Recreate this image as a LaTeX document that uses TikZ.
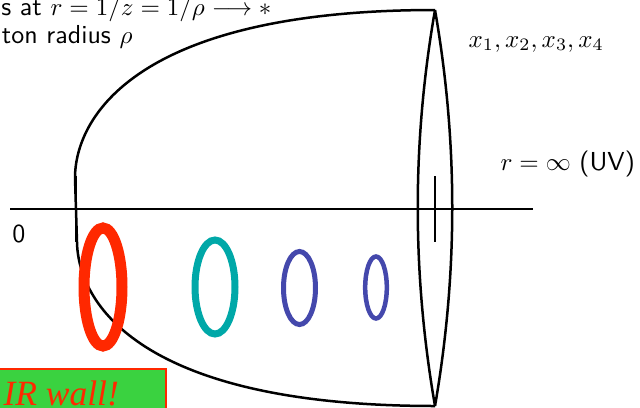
\documentclass[tikz,border=0pt]{standalone}
\usepackage{fontspec}
\newfontfamily\wallfont{Liberation Serif}
\definecolor{wallred}{RGB}{255,40,0}
\definecolor{teal2}{RGB}{0,168,168}
\definecolor{blue2}{RGB}{68,72,172}
\definecolor{wallgreen}{RGB}{58,210,64}
\begin{document}
\begin{tikzpicture}[x=0.4pt,y=-0.4pt,
  curve/.style={line width=1pt,black},
  tick/.style={line width=0.9pt,black},
  lbl/.style={inner sep=0pt,font=\fontsize{10.4}{12.5}\selectfont\sffamily},
  loop/.style={draw=#1},
]
\useasboundingbox (0,0) rectangle (640,407);
\clip (0,0) rectangle (640,407);
% boundary curve
\coordinate (tr) at (435,10);
\coordinate (br) at (435,406);
\coordinate (lt) at (75,178);
\coordinate (lb) at (77,242);
\draw[curve] (tr) .. controls (135,10) and (75,118) .. (lt) -- (lb)
  .. controls (78,302) and (138,406) .. (br);
% lens at r = infinity
\draw[curve] (tr) .. controls (412,142) and (412,273) .. (br);
\draw[curve] (tr) .. controls (458,142) and (458,273) .. (br);
% axis
\coordinate (ax0) at (10,209);
\coordinate (ax1) at (533,209);
\draw[line width=0.9pt] (ax0) -- (ax1);
% ticks
\coordinate (tl0) at (76,176); \coordinate (tl1) at (76,242);
\coordinate (tr0) at (435,176); \coordinate (tr1) at (435,242);
\draw[tick] (tl0) -- (tl1);
\draw[tick] (tr0) -- (tr1);
% loops
\draw[wallred,line width=4.4pt] (103,287) ellipse [x radius=19,y radius=59];
\draw[teal2,line width=2.8pt] (215,287) ellipse [x radius=20,y radius=47];
\draw[blue2,line width=2pt] (299.5,288) ellipse [x radius=16,y radius=36.5];
\draw[blue2,line width=1.8pt] (376,287.5) ellipse [x radius=10.8,y radius=31];
% labels
\node[lbl,anchor=base east] (t1) at (272,15) {s at $r = 1/z = 1/\rho \longrightarrow *$};
\node[lbl,anchor=base east] (t2) at (133,43) {ton radius $\rho$};
\node[lbl,anchor=base west] (xs) at (468,47) {$x_1,x_2,x_3,x_4$};
\node[lbl,anchor=base west] (uv) at (500,170) {$r=\infty$ (UV)};
\node[lbl,anchor=base west] (zero) at (12,242) {0};
% IR wall
\draw[wallred,fill=wallgreen,line width=0.8pt] (-5,369) rectangle (166,420);
\node[inner sep=0pt,anchor=base west,text=wallred,font=\fontsize{14.2}{17}\selectfont\wallfont\itshape] (ir) at (3,405) {IR wall!};
\end{tikzpicture}
\end{document}
